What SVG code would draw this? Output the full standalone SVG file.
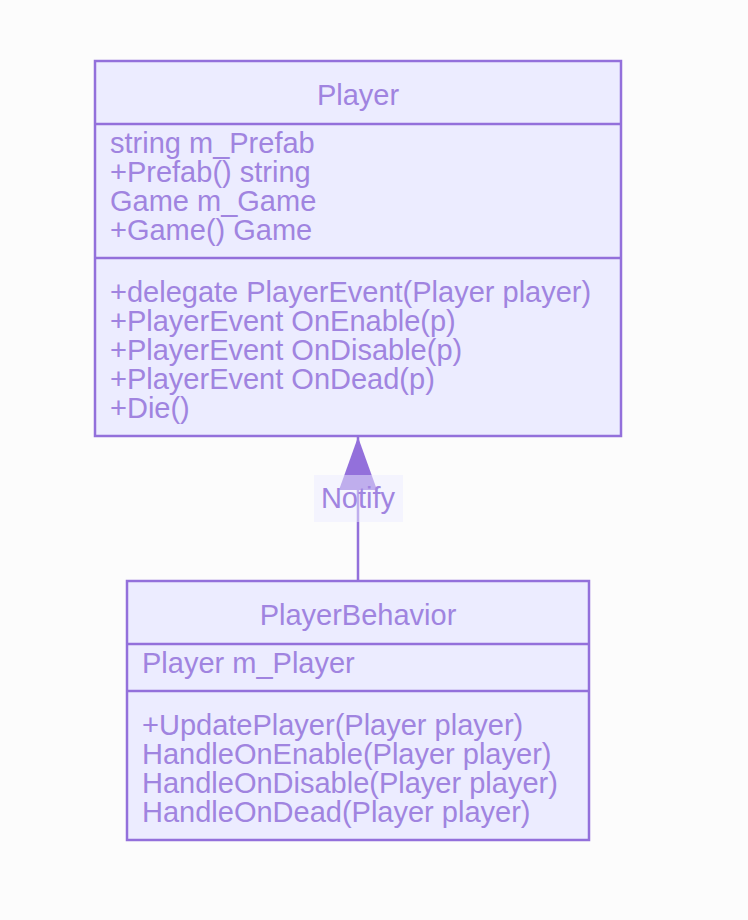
<svg xmlns="http://www.w3.org/2000/svg" width="748" height="920" viewBox="0 0 748 920">
<style>
.box{fill:#ECECFF;stroke:#9370DB;stroke-width:2.5}
.div{stroke:#9370DB;stroke-width:2.5}
text{font-family:"Liberation Sans",Arial,sans-serif;font-size:29px;fill:#A084E0}
.t{text-anchor:middle}
</style>
<rect width="748" height="920" fill="#FCFCFC"/>
<g id="connectors">
<line x1="358" y1="580" x2="358" y2="437" stroke="#9370DB" stroke-width="2.5"/>
<path d="M358,437 L377,490 L339,490 Z" fill="#9370DB"/>
<rect x="314" y="475" width="89" height="47" fill="#ECECFF" fill-opacity="0.5"/>
<text x="358" y="508" class="t">Notify</text>
</g>
<g id="Player">
<rect class="box" x="95" y="61" width="526" height="375"/>
<line class="div" x1="95" y1="124" x2="621" y2="124"/>
<line class="div" x1="95" y1="258" x2="621" y2="258"/>
<text x="358" y="105" class="t">Player</text>
<text x="110" y="153">string m_Prefab</text>
<text x="110" y="182">+Prefab() string</text>
<text x="110" y="211">Game m_Game</text>
<text x="110" y="240">+Game() Game</text>
<text x="110" y="302">+delegate PlayerEvent(Player player)</text>
<text x="110" y="331">+PlayerEvent OnEnable(p)</text>
<text x="110" y="360">+PlayerEvent OnDisable(p)</text>
<text x="110" y="389">+PlayerEvent OnDead(p)</text>
<text x="110" y="418">+Die()</text>
</g>
<g id="PlayerBehavior">
<rect class="box" x="127" y="581" width="462" height="259"/>
<line class="div" x1="127" y1="644" x2="589" y2="644"/>
<line class="div" x1="127" y1="691" x2="589" y2="691"/>
<text x="358" y="625" class="t">PlayerBehavior</text>
<text x="142" y="673">Player m_Player</text>
<text x="142" y="735">+UpdatePlayer(Player player)</text>
<text x="142" y="764">HandleOnEnable(Player player)</text>
<text x="142" y="793">HandleOnDisable(Player player)</text>
<text x="142" y="822">HandleOnDead(Player player)</text>
</g>
</svg>
